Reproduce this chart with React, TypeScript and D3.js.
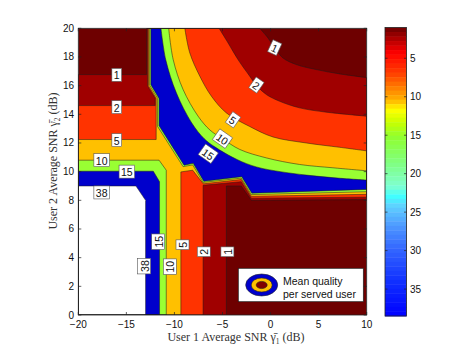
import React from "react";
import * as d3 from "d3";

type Pt = [number, number];

const W = 471;
const H = 355;

// axes
const xTicks = [-20, -15, -10, -5, 0, 5, 10];
const yTicks = [0, 2, 4, 6, 8, 10, 12, 14, 16, 18, 20];
const cbarTicks = [5, 10, 15, 20, 25, 30, 35];
const cbarDomain: Pt = [1, 38.5];

// contour levels; a region is filled for q >= level
const levels = [1, 2, 5, 10, 15, 38];
const levelFills = ["#a00000", "#ff3300", "#ffc000", "#99ff33", "#0000cc", "#ffffff"];
const belowFill = "#6e0000";

// contour lines, [user 1 SNR, user 2 SNR] in dB
const c1West: Pt[] = [[-20, 0], [-20, 16.77], [-12.9, 16.77], [-12.9, 20]];
const c1NE: Pt[] = [[-1.13, 20], [-0.27, 19.33], [0.43, 18.63], [1.29, 17.93], [2.68, 17.47], [4.76, 17.12], [7.18, 16.82], [10, 16.56]];
const c1SE: Pt[] = [[10, 8.05], [-2.0, 8.0], [-3.05, 9.0], [-4.6, 9.0], [-4.6, 0]];

const c2West: Pt[] = [[-20, 0], [-20, 14.61], [-12.0, 14.61], [-12.0, 15.12], [-12.8, 15.98], [-12.8, 20]];
const c2NE: Pt[] = [[-5.36, 20], [-4.42, 18.98], [-3.39, 17.82], [-2.17, 16.66], [-1.47, 16.01], [-0.44, 15.38], [0.94, 14.91], [3.02, 14.45], [5.79, 14.15], [10, 13.87]];
const c2SE: Pt[] = [[10, 8.22], [-2.0, 8.15], [-3.05, 9.3], [-7.02, 9.05], [-7.02, 0]];

const c5West: Pt[] = [[-20, 0], [-20, 12.24], [-11.9, 12.24], [-11.9, 15.12], [-12.7, 16.0], [-12.7, 20]];
const c5NE: Pt[] = [[-8.92, 20], [-8.4, 18.28], [-7.36, 16.66], [-6.15, 15.26], [-4.6, 14.1], [-2.17, 13.15], [0.25, 12.42], [3.72, 12.0], [7.18, 11.7], [10, 11.45]];
const c5SE: Pt[] = [[10, 8.42], [-2.0, 8.28], [-3.05, 9.45], [-7.0, 9.15], [-8.1, 10.1], [-9.33, 9.98], [-9.33, 0]];

const c10Cross: Pt[] = [[-20, 0], [-20, 10.8], [-11.6, 10.8], [-10.85, 10.1], [-10.85, 0]];
const c10Band: Pt[] = [[-12.58, 20], [-12.58, 16.03], [-11.75, 15.12], [-11.75, 13.15], [-9.1, 10.35], [-8.1, 10.47], [-7.02, 9.25], [-3.05, 9.55], [-2.0, 8.4], [10, 8.6]];
const c10NE: Pt[] = [[-10.6, 20], [-10.13, 17.82], [-9.1, 15.73], [-7.54, 13.87], [-6.3, 12.9], [-5.0, 12.3], [-3.21, 11.55], [-0.44, 10.96], [3.02, 10.5], [6.48, 10.27], [10, 10.06]];

const c15Cross: Pt[] = [[-20, 0], [-20, 10.03], [-12.2, 10.03], [-11.55, 9.3], [-11.55, 0]];
const c15Band: Pt[] = [[-12.45, 20], [-12.45, 16.06], [-11.6, 15.1], [-11.6, 13.2], [-9.0, 10.45], [-8.05, 10.58], [-6.95, 9.33], [-3.0, 9.65], [-1.95, 8.5], [10, 8.76]];
const c15NE: Pt[] = [[-11.4, 20], [-10.9, 17.8], [-9.8, 15.5], [-8.2, 13.4], [-6.9, 12.3], [-5.8, 11.73], [-3.5, 10.85], [-1.48, 10.33], [1.0, 10.0], [3.72, 9.76], [7, 9.55], [10, 9.41]];

const c38: Pt[] = [[-20, 0], [-20, 9], [-14, 9], [-13, 8], [-13, 0]];

// inline contour labels: position (dB), text, rotation
const labelPos: Pt[] = [
  [-16.0, 16.75], [-16.0, 14.5], [-16.0, 12.2], [-17.57, 10.8], [-14.95, 10.0], [-17.57, 8.55],
  [-11.69, 5.11], [-13.15, 3.41], [-10.48, 3.37], [-9.16, 4.9], [-6.95, 4.41], [-4.49, 4.41],
  [0.43, 18.65], [-1.47, 16.04], [-3.9, 13.62], [-5.0, 12.3], [-6.48, 11.25],
];
const labelText = ["1", "2", "5", "10", "15", "38", "15", "38", "10", "5", "2", "1", "1", "2", "5", "10", "15"];
const labelAngle = [0, 0, 0, 0, 0, 0, -90, -90, -90, -90, -90, -90, 25, 35, 35, 35, 35];

// colorbar colours, top (t=0) to bottom (t=1)
const cbarT = [0, 0.05, 0.09, 0.16, 0.21, 0.25, 0.285, 0.33, 0.38, 0.47, 0.55, 0.585, 0.62, 0.7, 0.78, 0.88, 1];
const cbarColors = ["#6a0000", "#c00000", "#ff0000", "#ff4000", "#ff8000", "#ffb000", "#ffff00", "#c8ff00", "#90ff30", "#80ff80", "#80ffd0", "#40ffff", "#60d0ff", "#4a90ff", "#3060ff", "#1030ff", "#0000ff"];

const SANS = "'Liberation Sans', Arial, Helvetica, sans-serif";
const SERIF = "'Liberation Serif', 'Times New Roman', serif";

export default function App() {
  const x = d3.scaleLinear().domain([-20, 10]).range([78.3, 366.7]);
  const y = d3.scaleLinear().domain([0, 20]).range([315, 28.3]);
  const cy = d3.scaleLinear().domain(cbarDomain).range([27.5, 316]);
  const cmap = d3.scaleLinear<string>().domain(cbarT).range(cbarColors).interpolate(d3.interpolateRgb);

  const straight = d3.line<Pt>().x(d => x(d[0])).y(d => y(d[1]));
  const smooth = d3.line<Pt>().x(d => x(d[0])).y(d => y(d[1])).curve(d3.curveCatmullRom.alpha(0.5));

  const build = (pieces: [Pt[], boolean][]) =>
    pieces.map(([pts, sm], i) => {
      const s = (sm ? smooth : straight)(pts) || "";
      return i === 0 ? s : "L" + s.slice(1);
    }).join("") + "Z";

  const regions: { level: number; pieces: [Pt[], boolean][] }[] = [
    { level: 1, pieces: [[c1West, false], [c1NE, true], [c1SE, false]] },
    { level: 2, pieces: [[c2West, false], [c2NE, true], [c2SE, false]] },
    { level: 5, pieces: [[c5West, false], [c5NE, true], [c5SE, false]] },
    { level: 10, pieces: [[c10Cross, false]] },
    { level: 10, pieces: [[c10Band, false], [c10NE.slice().reverse(), true]] },
    { level: 15, pieces: [[c15Cross, false]] },
    { level: 15, pieces: [[c15Band, false], [c15NE.slice().reverse(), true]] },
    { level: 38, pieces: [[c38, false]] },
  ];
  const paths = regions.map(r => ({ d: build(r.pieces), fill: levelFills[levels.indexOf(r.level)] }));

  const [x0, x1] = x.range();
  const [y0, y1] = y.range();
  const cbX0 = 385, cbX1 = 406.5;
  const nBands = 64;
  const bands = d3.range(nBands).map(i => {
    const v0 = cbarDomain[0] + (cbarDomain[1] - cbarDomain[0]) * i / nBands;
    const v1 = cbarDomain[0] + (cbarDomain[1] - cbarDomain[0]) * (i + 1) / nBands;
    return { y: cy(v0), h: cy(v1) - cy(v0), c: cmap((i + 0.5) / nBands) };
  });

  const tick = 3;

  return (
    <svg width={W} height={H} style={{ position: "absolute", left: 0, top: 0, background: "#fff" }}>
      <defs>
        <clipPath id="plotClip">
          <rect x={x0} y={y1} width={x1 - x0} height={y0 - y1} />
        </clipPath>
      </defs>

      <g clipPath="url(#plotClip)">
        <rect x={x0} y={y1} width={x1 - x0} height={y0 - y1} fill={belowFill} />
        {paths.map((p, i) => <path key={"f" + i} d={p.d} fill={p.fill} stroke="none" />)}
        {paths.map((p, i) => <path key={"s" + i} d={p.d} fill="none" stroke="#1a1a1a" strokeWidth={0.6} strokeOpacity={0.85} strokeLinejoin="round" />)}
      </g>

      {/* contour labels */}
      {labelPos.map((p, i) => {
        const t = labelText[i];
        const w = t.length * 5.8 + 4;
        const h = 13;
        return (
          <g key={"l" + i} transform={`translate(${x(p[0])},${y(p[1])}) rotate(${labelAngle[i]})`}>
            <rect x={-w / 2} y={-h / 2} width={w} height={h} fill="#fff" stroke="#555" strokeWidth={0.6} />
            <text x={0} y={0.5} textAnchor="middle" dominantBaseline="central" fontFamily={SANS} fontSize={10.5} fill="#111">{t}</text>
          </g>
        );
      })}

      {/* legend */}
      <g>
        <rect x={238.3} y={268.3} width={125} height={33.4} fill="#fff" stroke="#222" strokeWidth={0.7} />
        <ellipse cx={261.7} cy={285} rx={16} ry={11} fill={levelFills[4]} stroke="#222" strokeWidth={0.6} />
        <ellipse cx={261.7} cy={285} rx={10.5} ry={7} fill={levelFills[2]} stroke="#222" strokeWidth={0.6} />
        <ellipse cx={261.7} cy={285} rx={5.5} ry={3.6} fill="#800000" stroke="#222" strokeWidth={0.6} />
        <text x={283} y={284.5} fontFamily={SANS} fontSize={10.5} fill="#111">Mean quality</text>
        <text x={283} y={297.5} fontFamily={SANS} fontSize={10.5} fill="#111">per served user</text>
      </g>

      {/* axes box + ticks */}
      <rect x={x0} y={y1} width={x1 - x0} height={y0 - y1} fill="none" stroke="#222" strokeWidth={0.8} />
      {xTicks.map(v => (
        <g key={"xt" + v}>
          <line x1={x(v)} x2={x(v)} y1={y0} y2={y0 - tick} stroke="#222" strokeWidth={0.7} />
          <line x1={x(v)} x2={x(v)} y1={y1} y2={y1 + tick} stroke="#222" strokeWidth={0.7} />
          <text x={x(v)} y={328} textAnchor="middle" fontFamily={SANS} fontSize={10} fill="#111">
            {v < 0 ? "\u2212" + Math.abs(v) : v}
          </text>
        </g>
      ))}
      {yTicks.map(v => (
        <g key={"yt" + v}>
          <line x1={x0} x2={x0 + tick} y1={y(v)} y2={y(v)} stroke="#222" strokeWidth={0.7} />
          <line x1={x1} x2={x1 - tick} y1={y(v)} y2={y(v)} stroke="#222" strokeWidth={0.7} />
          <text x={74} y={y(v)} textAnchor="end" dominantBaseline="central" fontFamily={SANS} fontSize={10} fill="#111">{v}</text>
        </g>
      ))}

      {/* axis titles */}
      <text x={236} y={341} textAnchor="middle" fontFamily={SERIF} fontSize={12} fill="#333">
        User 1 Average SNR {"\u03B3\u0304"}<tspan fontSize={7.5} dy={2.5}>1</tspan><tspan dy={-2.5}> (dB)</tspan>
      </text>
      <text transform="translate(57,161) rotate(-90)" textAnchor="middle" fontFamily={SERIF} fontSize={12} fill="#333">
        User 2 Average SNR {"\u03B3\u0304"}<tspan fontSize={7.5} dy={2.5}>2</tspan><tspan dy={-2.5}> (dB)</tspan>
      </text>

      {/* colorbar */}
      {bands.map((b, i) => <rect key={"cb" + i} x={cbX0} y={b.y} width={cbX1 - cbX0} height={b.h + 0.4} fill={b.c} />)}
      <rect x={cbX0} y={cy(cbarDomain[0])} width={cbX1 - cbX0} height={cy(cbarDomain[1]) - cy(cbarDomain[0])} fill="none" stroke="#222" strokeWidth={0.8} />
      {cbarTicks.map(v => (
        <g key={"ct" + v}>
          <line x1={cbX0} x2={cbX0 + 2.5} y1={cy(v)} y2={cy(v)} stroke="#222" strokeWidth={0.7} />
          <line x1={cbX1} x2={cbX1 - 2.5} y1={cy(v)} y2={cy(v)} stroke="#222" strokeWidth={0.7} />
          <text x={410} y={cy(v)} dominantBaseline="central" fontFamily={SANS} fontSize={10} fill="#111">{v}</text>
        </g>
      ))}
    </svg>
  );
}
